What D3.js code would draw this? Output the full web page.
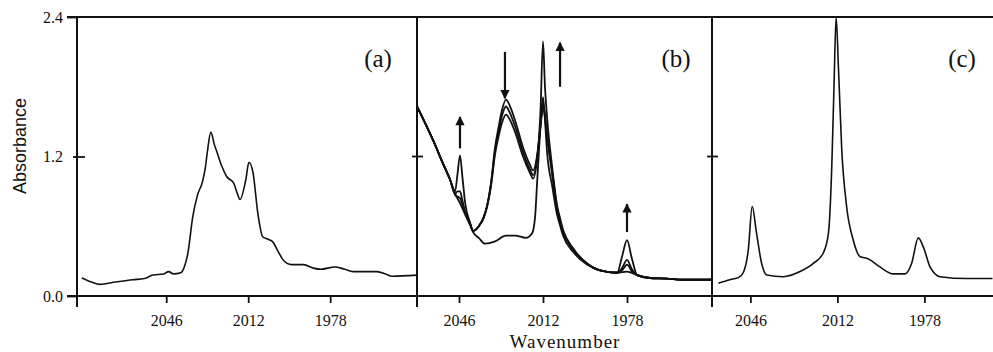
<!DOCTYPE html>
<html>
<head>
<meta charset="utf-8">
<script src="https://cdn.jsdelivr.net/npm/d3@7"></script>
<style>
  body { margin: 0; background: #fff; }
  svg { display: block; }
  .tick text { font-family: "Liberation Serif", "Times New Roman", serif; font-size: 16px; fill: #111; }
</style>
</head>
<body>
<div id="chart"></div>
<script>
// wavenumber ticks shared by the three panels
const xTicks = [2046, 2012, 1978]
const yTicks = [0.0, 1.2, 2.4]
const panelLabels = ['(a)', '(b)', '(c)']

// panel (a): single spectrum  [wavenumber, absorbance]
const specA = [
  [2081, 0.155], [2077, 0.12], [2073.5, 0.10], [2067, 0.12], [2060, 0.14], [2055, 0.15],
  [2051.5, 0.18], [2047, 0.19], [2045, 0.21], [2043, 0.19], [2040, 0.20], [2038.5, 0.25],
  [2037, 0.37], [2035, 0.68], [2033, 0.87], [2031, 0.98], [2029.8, 1.10], [2029, 1.23],
  [2027.5, 1.41], [2026, 1.30], [2025, 1.24], [2023, 1.12], [2021, 1.03], [2018, 0.97],
  [2016.5, 0.88], [2015.4, 0.83], [2013, 1.00], [2011.7, 1.15], [2010, 1.06], [2008, 0.71],
  [2006, 0.51], [2004, 0.49], [2002, 0.47], [1999.5, 0.38], [1997.5, 0.31], [1994, 0.27],
  [1989, 0.27], [1985, 0.24], [1982, 0.23], [1976, 0.25], [1972, 0.23], [1968.5, 0.21],
  [1958.6, 0.21], [1955, 0.19], [1952.4, 0.17], [1942, 0.18]
]

// panel (b): four spectra of the series
const specB0 = [
  [2063, 1.63], [2060, 1.50], [2056.5, 1.34], [2052.5, 1.14], [2049.6, 1.00], [2047.6, 0.88],
  [2045.6, 0.80], [2043.5, 0.70], [2041.5, 0.61], [2040.3, 0.55], [2038, 0.50], [2035.5, 0.45],
  [2031.4, 0.47], [2027, 0.52], [2023.3, 0.52], [2019, 0.50], [2016.4, 0.54], [2015.2, 0.68],
  [2014.4, 0.97], [2013.2, 1.40], [2012, 1.71], [2011, 1.45], [2010.4, 1.25], [2008.3, 0.95],
  [2006.3, 0.70], [2005, 0.60], [2003.9, 0.52], [1999.8, 0.38], [1994.2, 0.27], [1988.9, 0.22],
  [1982, 0.20], [1978, 0.21], [1973.9, 0.18], [1968.7, 0.155], [1962, 0.15], [1955.3, 0.14],
  [1944, 0.14]
]
const specB1 = [
  [2063, 1.63], [2060, 1.50], [2056.5, 1.34], [2052.5, 1.14], [2049.6, 1.00], [2047.6, 0.87],
  [2045.6, 0.84], [2043.5, 0.72], [2041.5, 0.62], [2040.3, 0.56], [2038, 0.60], [2036, 0.68],
  [2034.7, 0.77], [2033, 0.98], [2031.4, 1.28], [2030, 1.45], [2028.6, 1.60], [2027, 1.69],
  [2025.5, 1.64], [2023.3, 1.51], [2020.1, 1.28], [2017.3, 1.13], [2016, 1.08], [2014, 1.27],
  [2012.8, 1.50], [2012, 1.62], [2011, 1.50], [2010.4, 1.38], [2008.3, 1.05], [2006.3, 0.74],
  [2005, 0.63], [2003.9, 0.55], [1999.8, 0.40], [1994.2, 0.28], [1988.9, 0.22], [1982, 0.20],
  [1980, 0.22], [1978, 0.27], [1976, 0.21], [1973.9, 0.18], [1968.7, 0.155], [1962, 0.15],
  [1955.3, 0.14], [1944, 0.14]
]
const specB2 = [
  [2063, 1.63], [2060, 1.50], [2056.5, 1.34], [2052.5, 1.14], [2049.6, 1.00], [2047.6, 0.88],
  [2046.6, 0.90], [2045.6, 0.90], [2044.6, 0.82], [2043.5, 0.72], [2041.5, 0.62], [2040.3, 0.56],
  [2038, 0.60], [2036, 0.68], [2034.7, 0.77], [2033, 0.97], [2031.4, 1.25], [2030, 1.41],
  [2028.6, 1.55], [2027, 1.63], [2025.5, 1.58], [2023.3, 1.46], [2020.1, 1.24], [2017.3, 1.09],
  [2016, 1.04], [2014, 1.25], [2012.8, 1.52], [2012, 1.66], [2011, 1.52], [2010.4, 1.40],
  [2008.3, 1.07], [2006.3, 0.76], [2005, 0.64], [2003.9, 0.56], [1999.8, 0.40], [1994.2, 0.28],
  [1988.9, 0.22], [1982, 0.20], [1980, 0.24], [1978, 0.31], [1976, 0.23], [1973.9, 0.18],
  [1968.7, 0.155], [1962, 0.15], [1955.3, 0.14], [1944, 0.14]
]
const specB3 = [
  [2063, 1.63], [2060, 1.50], [2056.5, 1.34], [2052.5, 1.14], [2049.6, 1.00], [2047.6, 0.90],
  [2046.6, 1.05], [2045.6, 1.21], [2044.6, 1.02], [2043.5, 0.80], [2041.5, 0.63], [2040.3, 0.56],
  [2038, 0.60], [2036, 0.67], [2034.7, 0.76], [2033, 0.95], [2031.4, 1.22], [2030, 1.37],
  [2028.6, 1.49], [2027, 1.56], [2025.5, 1.52], [2023.3, 1.41], [2020.1, 1.20], [2017.3, 1.06],
  [2016, 1.01], [2014, 1.26], [2013, 1.60], [2012, 2.19], [2011.2, 1.80], [2010.4, 1.55],
  [2008.3, 1.11], [2006.3, 0.78], [2005, 0.66], [2003.9, 0.57], [1999.8, 0.41], [1994.2, 0.28],
  [1988.9, 0.22], [1982, 0.20], [1980, 0.34], [1978, 0.48], [1976, 0.32], [1973.9, 0.18],
  [1968.7, 0.155], [1962, 0.15], [1955.3, 0.14], [1944, 0.14]
]

// panel (c): single spectrum
const specC = [
  [2058.5, 0.11], [2054, 0.14], [2050.5, 0.16], [2048.8, 0.20], [2046.8, 0.40], [2045.3, 0.77],
  [2043.6, 0.54], [2041.6, 0.28], [2039.6, 0.18], [2033.1, 0.166], [2026.6, 0.21], [2021.4, 0.28],
  [2017.5, 0.37], [2015.5, 0.54], [2014.2, 1.11], [2013.3, 1.83], [2012.5, 2.40], [2011.6, 1.97],
  [2010.3, 1.26], [2008.4, 0.77], [2005.8, 0.48], [2003.2, 0.34], [2000, 0.32], [1995.4, 0.25],
  [1990.2, 0.19], [1985.6, 0.19], [1983, 0.28], [1980.4, 0.50], [1978.4, 0.42], [1975.8, 0.25],
  [1971.9, 0.166], [1961.5, 0.15], [1951.4, 0.15]
]

// arrows in panel (b): wavenumber, absorbance at tail, absorbance at head
const arrowsB = [
  { w: 2045.6, from: 1.27, to: 1.54 },
  { w: 2027.4, from: 2.10, to: 1.70 },
  { w: 2005.1, from: 1.80, to: 2.18 },
  { w: 1978.0, from: 0.55, to: 0.79 }
]

const width = 993, height = 352
const yTop = 17, yBottom = 296

const panels = [
  { domain: [2083, 1942], range: [77, 417], series: [specA], label: panelLabels[0], lx: 378 },
  { domain: [2063, 1944], range: [417, 711], series: [specB0, specB1, specB2, specB3], label: panelLabels[1], lx: 676 },
  { domain: [2061, 1951.2], range: [712, 993], series: [specC], label: panelLabels[2], lx: 962 }
]

const svg = d3.select('#chart')
  .append('svg')
  .attr('width', width)
  .attr('height', height)

const y = d3.scaleLinear().domain([0, 2.4]).range([yBottom, yTop])

const defs = svg.append('defs')
defs.append('marker')
  .attr('id', 'head')
  .attr('viewBox', '0 0 10 10')
  .attr('refX', 9).attr('refY', 5)
  .attr('markerWidth', 6.5).attr('markerHeight', 4.2)
  .attr('markerUnits', 'strokeWidth')
  .attr('orient', 'auto')
  .append('path')
  .attr('d', 'M0,0L10,5L0,10Z')
  .attr('fill', '#111')

panels.forEach((p, i) => {
  const x = d3.scaleLinear().domain(p.domain).range(p.range)

  defs.append('clipPath').attr('id', 'clip' + i)
    .append('rect')
    .attr('x', p.range[0]).attr('y', yTop - 1)
    .attr('width', p.range[1] - p.range[0]).attr('height', yBottom - yTop + 1)

  const line = d3.line()
    .x(d => x(d[0]))
    .y(d => y(d[1]))
    .curve(d3.curveMonotoneX)

  const g = svg.append('g').attr('clip-path', 'url(#clip' + i + ')')
  g.selectAll('path.spec')
    .data(p.series)
    .enter()
    .append('path')
    .attr('class', 'spec')
    .attr('d', line)
    .attr('fill', 'none')
    .attr('stroke', '#111')
    .attr('stroke-width', i == 1 ? 1.8 : 1.6)
    .attr('stroke-linejoin', 'round')

  const xAxis = svg.append('g')
    .attr('transform', 'translate(0,' + yBottom + ')')
    .call(d3.axisBottom(x).tickValues(xTicks).tickSize(7).tickPadding(12).tickFormat(d3.format('d')))
  xAxis.select('.domain').remove()
  xAxis.selectAll('.tick line').attr('stroke', '#111').attr('stroke-width', 1.8)

  // 1.2 tick across each separator
  if (i > 0) {
    svg.append('line')
      .attr('x1', p.range[0] - 5).attr('x2', p.range[0] + 6)
      .attr('y1', y(1.2)).attr('y2', y(1.2))
      .attr('stroke', '#111').attr('stroke-width', 1.8)
  }

  svg.append('text')
    .attr('x', p.lx)
    .attr('y', 67)
    .attr('text-anchor', 'middle')
    .style('font-family', '"Liberation Serif", "Times New Roman", serif')
    .style('font-size', '25px')
    .attr('fill', '#111')
    .text(p.label)

  if (i == 1) {
    svg.selectAll('line.arrow')
      .data(arrowsB)
      .enter()
      .append('line')
      .attr('class', 'arrow')
      .attr('x1', d => x(d.w)).attr('x2', d => x(d.w))
      .attr('y1', d => y(d.from)).attr('y2', d => y(d.to))
      .attr('stroke', '#111')
      .attr('stroke-width', 2.2)
      .attr('marker-end', 'url(#head)')
  }
})

// y axis on the left of panel (a)
const yAxis = svg.append('g')
  .attr('transform', 'translate(77,0)')
  .call(d3.axisLeft(y).tickValues(yTicks).tickSize(10).tickPadding(4).tickFormat(d3.format('.1f')))
yAxis.select('.domain').remove()
yAxis.selectAll('.tick line').attr('stroke', '#111').attr('stroke-width', 1.8)
yAxis.select('.tick:nth-child(2) line').attr('x1', 8).attr('x2', -4)

// frame: top and bottom lines, left axis and separators
svg.append('line').attr('x1', 67).attr('x2', width).attr('y1', yTop).attr('y2', yTop)
  .attr('stroke', '#111').attr('stroke-width', 2)
svg.append('line').attr('x1', 67).attr('x2', width).attr('y1', yBottom).attr('y2', yBottom)
  .attr('stroke', '#111').attr('stroke-width', 2)
;[77, 417, 712].forEach(px => {
  svg.append('line').attr('x1', px).attr('x2', px).attr('y1', yTop).attr('y2', yBottom + 11)
    .attr('stroke', '#111').attr('stroke-width', 2)
})

svg.append('text')
  .attr('transform', 'translate(26,146) rotate(-90)')
  .attr('text-anchor', 'middle')
  .style('font-family', '"Liberation Sans", Arial, sans-serif')
  .style('font-size', '18px')
  .attr('fill', '#111')
  .text('Absorbance')

svg.append('text')
  .attr('x', 565)
  .attr('y', 347.5)
  .attr('text-anchor', 'middle')
  .style('font-family', '"Liberation Serif", "Times New Roman", serif')
  .style('font-size', '19px')
  .style('letter-spacing', '1px')
  .attr('fill', '#111')
  .text('Wavenumber')
</script>
</body>
</html>
